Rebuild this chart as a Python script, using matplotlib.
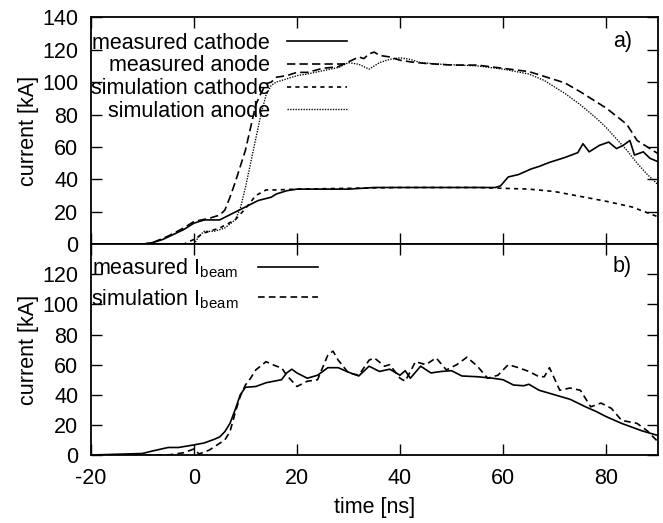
import numpy as np
import matplotlib
matplotlib.use('Agg')
from matplotlib import pyplot as plt

plt.rcParams['font.family'] = ['Liberation Sans', 'DejaVu Sans']
plt.rcParams['mathtext.fontset'] = 'custom'
plt.rcParams['mathtext.rm'] = 'Liberation Sans'
plt.rcParams['axes.unicode_minus'] = False

# === DATA: panel a) ===
t_meas_cath = [-20, -15, -10, -8, -6, -4, -2, 0, 2, 3.5, 5, 7.5, 10, 12.5, 15, 16, 18, 20, 25, 30, 35, 40,
               45, 50, 55, 58.5, 59.5, 61, 63, 65.5, 67, 69, 72, 74.5, 75.5, 76.7, 78.7, 80.5, 82,
               83.3, 84.6, 85.5, 87.2, 88.5, 90]
i_meas_cath = [0, 0, 0, 1, 3, 6, 9, 13, 15, 15, 15, 19, 23, 27, 29, 31, 33, 34, 34, 34, 35, 35,
               35, 35, 35, 35, 36, 41.5, 43, 46.5, 48, 50.5, 53.5, 56.5, 62, 57, 61, 63, 59,
               61, 64, 55, 57, 53, 51]

t_meas_anode = [-20, -15, -10, -8, -5, -2, 0, 3, 5, 6, 7, 8, 9, 10, 11, 12, 13, 14, 15, 16, 18, 20,
                22, 25, 28, 30, 32, 33, 34, 35, 36, 38, 40, 42, 45, 50, 55, 60, 65, 68, 70, 72,
                75, 78, 80, 82, 84, 86, 88, 90]
i_meas_anode = [0, 0, 0, 1, 5, 10, 14, 16, 18, 21, 29, 38, 48, 58, 72, 86, 93, 99, 100, 103, 104, 106,
                106, 108.5, 109.5, 112.5, 115.5, 114.5, 117.5, 118.5, 116.5, 115.5, 113.5, 112.5, 111.5,
                110.5, 110.5, 108.5, 106.5, 103.5, 101.5, 99.5, 94, 88, 84, 79, 74, 64, 60, 56]

t_sim_cath = [-20, -2, 0, 2, 5, 8, 10, 12, 14, 16, 20, 30, 40, 50, 55, 60, 65, 70, 75, 80, 85, 90]
i_sim_cath = [0, 0, 3, 7, 10, 15, 22, 30, 33.5, 33.5, 34, 34.5, 35, 35, 35, 34.5, 34, 32.5, 29.5, 26.5,
              23, 17]

t_sim_anode = [0, 1, 2, 4, 6, 8, 9, 10, 11, 12, 13, 14, 15, 16, 18, 20, 22, 25, 28, 30, 32, 34, 36, 38,
               40, 42, 44, 48, 55, 60, 65, 68, 70, 72, 75, 78, 80, 82, 84, 86, 88, 90]
i_sim_anode = [0, 5, 8, 8, 10, 15, 22, 35, 50, 65, 80, 92, 98, 100, 102, 104, 105, 107, 109, 112, 111,
               108, 112, 114, 115, 114, 112, 111, 110, 108, 105, 101, 97, 93, 86, 78, 72, 65, 58, 50,
               43, 37]

# === DATA: panel b) ===
t_meas_beam = [-20, -15, -10, -8, -5, -3, 0, 2, 4, 5, 6, 7, 8, 9, 10, 12, 14, 17, 18, 19, 20, 22, 24,
               26, 28, 30, 32, 34, 36, 38, 40, 41, 42, 44, 46, 48, 50, 52, 55, 58, 60, 62, 64, 65,
               67, 70, 73, 76, 78, 80, 83, 85, 87, 90]
i_meas_beam = [0, 0.5, 1, 2.7, 5, 5, 6.7, 8, 10.5, 12, 15.5, 21, 30, 40, 45, 45.5, 48, 50, 54.5, 57,
               54.5, 51, 53, 58, 58, 55, 52.5, 59, 55.5, 57, 53, 56, 51, 59, 54.5, 55.5, 56, 52.5,
               52, 51, 50, 46.5, 46, 47, 43, 40, 37, 32, 29, 25.5, 21, 18.5, 16, 13]

t_sim_beam = [-20, -10, -5, -2, 0, 1, 3, 5, 6, 7, 8, 9, 10, 11, 12, 14, 16, 17, 18, 20, 22, 24, 26,
              27, 28, 30, 32, 34, 35, 37, 38, 40, 41, 43, 45, 47, 49, 51, 53, 55, 57, 59, 61, 63,
              65, 67, 68, 69, 71, 73, 75, 77, 79, 81, 83, 86, 88, 90]
i_sim_beam = [0, 0, 0, 1.5, 4, 0.7, 3.3, 7.8, 10, 15.5, 28, 39, 46.5, 51, 56.5, 62, 59, 58, 53,
              45.5, 49, 50, 66.5, 69, 63, 54.5, 53, 63, 64.5, 59, 60, 51, 49, 62, 60, 64.5, 56.5,
              60, 65, 59, 51, 53, 60, 58, 55.5, 52, 52, 58, 43, 44.5, 43, 32, 34.5, 31, 23, 21,
              16, 9]

x_ticks = [-20, 0, 20, 40, 60, 80]

fig = plt.figure(figsize=(6.63, 5.23), dpi=100)
ax_a = fig.add_axes([0.137, 0.533, 0.855, 0.434])
ax_b = fig.add_axes([0.137, 0.130, 0.855, 0.403])

lw = 1.2
fs = 15.5

def style_axis(ax):
    ax.set_xlim(-20, 90)
    ax.set_ylim(0, 140)
    ax.set_xticks(x_ticks)
    ax.tick_params(direction='in', length=8, width=1.0, top=True, right=True, labelsize=fs)
    ax.tick_params(axis='x', pad=9)
    ax.tick_params(axis='y', pad=9)
    for s in ax.spines.values():
        s.set_linewidth(1.3)
    ax.set_ylabel('current [kA]', fontsize=fs, labelpad=2)

def right_align_legend(leg):
    # gnuplot-style key: right-aligned text, sample on the right
    vp = leg._legend_box._children[-1]._children[0]
    vp.align = 'right'

# --- panel a) ---
ax_a.plot(t_meas_cath, i_meas_cath, color='black', lw=lw, label='measured cathode')
ax_a.plot(t_meas_anode, i_meas_anode, color='black', lw=lw, linestyle=(0, (5, 2.5)), label='measured anode')
ax_a.plot(t_sim_cath, i_sim_cath, color='black', lw=lw, linestyle=(0, (2.5, 2.5)), label='simulation cathode')
ax_a.plot(t_sim_anode, i_sim_anode, color='black', lw=lw * 0.8, linestyle=(0, (1, 1)), label='simulation anode')
style_axis(ax_a)
ax_a.set_yticks(range(0, 141, 20))
ax_a.tick_params(labelbottom=False)
leg = ax_a.legend(loc='upper left', bbox_to_anchor=(0.0, 0.932), frameon=False, markerfirst=False,
                  fontsize=fs, handlelength=2.8, handletextpad=0.8, labelspacing=0.08,
                  borderaxespad=0.0, borderpad=0.0)
right_align_legend(leg)
ax_a.text(0.955, 0.895, 'a)', transform=ax_a.transAxes, fontsize=fs, ha='right', va='center')

# --- panel b) ---
ax_b.plot(t_meas_beam, i_meas_beam, color='black', lw=lw, label=r'measured I$_{\mathrm{beam}}$')
ax_b.plot(t_sim_beam, i_sim_beam, color='black', lw=lw, linestyle=(0, (4, 2.5)), label=r'simulation I$_{\mathrm{beam}}$')
style_axis(ax_b)
ax_b.set_yticks(range(0, 121, 20))
ax_b.set_xlabel('time [ns]', fontsize=fs, labelpad=6)
leg = ax_b.legend(loc='upper left', bbox_to_anchor=(0.0, 0.94), frameon=False, markerfirst=False,
                  fontsize=fs, handlelength=2.8, handletextpad=0.9, labelspacing=0.3,
                  borderaxespad=0.0, borderpad=0.0)
right_align_legend(leg)
ax_b.text(0.955, 0.895, 'b)', transform=ax_b.transAxes, fontsize=fs, ha='right', va='center')

fig.savefig('out.png', dpi=100)
